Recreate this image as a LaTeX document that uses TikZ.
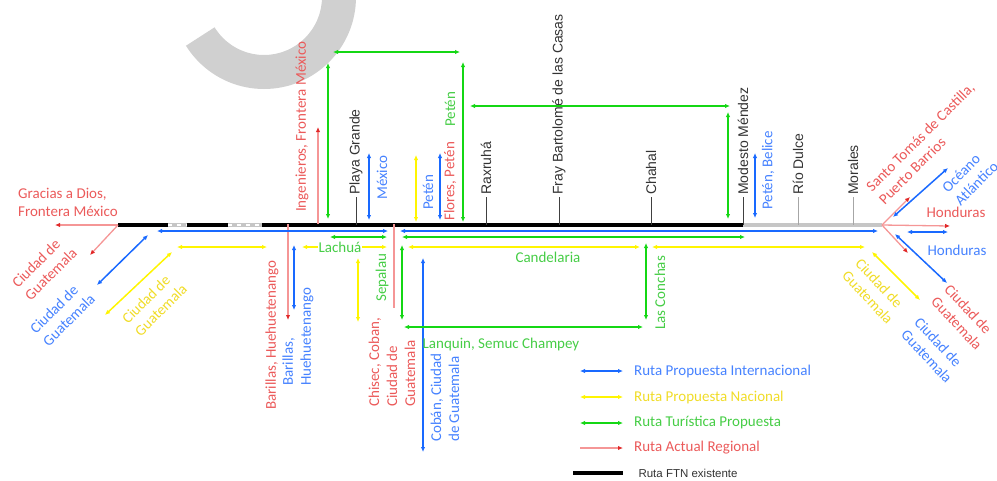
\documentclass[tikz,border=0pt]{standalone}
\usepackage{fontspec}
\setmainfont{Carlito}
\newfontfamily\arialfont{Liberation Sans}
\usetikzlibrary{arrows.meta}
\definecolor{azul}{RGB}{25,105,255}
\definecolor{azult}{RGB}{70,130,255}
\definecolor{amar}{RGB}{255,245,0}
\definecolor{amart}{RGB}{240,220,40}
\definecolor{verde}{RGB}{20,215,20}
\definecolor{verdet}{RGB}{70,205,70}
\definecolor{rosa}{RGB}{245,150,150}
\definecolor{rojo}{RGB}{225,40,40}
\definecolor{rojot}{RGB}{235,90,90}
\definecolor{gris}{RGB}{208,208,208}
\tikzset{
  blu/.style={azul,line width=1.5pt,<->},
  yel/.style={amar,line width=1.5pt,<->},
  grn/.style={verde,line width=1.5pt,<->},
  rd/.style={rosa,line width=1.3pt,-{Latex[length=5pt,width=4.5pt,color=rojo]}},
  ftn/.style={black,line width=3.5pt},
  marca/.style={black!75,line width=0.8pt},
  lbl/.style={font=\arialfont\fontsize{14}{16}\selectfont,text=black!80,rotate=90,anchor=west,inner sep=2pt},
  tx/.style={font=\fontsize{15}{18}\selectfont,inner sep=1pt,align=left},
  bt/.style={tx,text=azult},
  yt/.style={tx,text=amart},
  gt/.style={tx,text=verdet},
  rt/.style={tx,text=rojot}
}
\begin{document}
\begin{tikzpicture}[x=1pt,y=-1pt,>={Latex[length=5pt,width=4.5pt]}]
    \useasboundingbox (0,0) rectangle (997,480);
    \begin{scope}
      \clip (257,0) -- (52,132) -- (52,200) -- (420,200) -- (420,0) -- cycle;
      \fill[gris,even odd rule] (264,-3) circle (92pt) (264,-3) circle (58pt);
    \end{scope}
    \coordinate (L0) at (118,225);
    \coordinate (R0) at (882,225);
    \coordinate (k1) at (168,225);
    \coordinate (k2) at (187,225);
    \coordinate (k3) at (228,225);
    \coordinate (k4) at (262,225);
    \coordinate (k5) at (743,225);
    \draw[gray!45,line width=3.5pt] (L0) -- (R0);
    \draw[white,line width=2pt,dash pattern=on 4pt off 5pt] (k1) -- (k2) (k3) -- (k4);
    \draw[ftn] (L0) -- (k1) (k2) -- (k3) (k4) -- (k5);
    \node[lbl] (pg) at (356,197) {Playa Grande};
    \node[lbl] (rx) at (486,197) {Raxruhá};
    \node[lbl] (fb) at (559,197) {Fray Bartolomé de las Casas};
    \node[lbl] (ch) at (651,197) {Chahal};
    \node[lbl] (mm) at (743,197) {Modesto Méndez};
    \node[lbl] (rdu) at (798,197) {Río Dulce};
    \node[lbl] (mo) at (853,197) {Morales};
    \draw[marca] (pg.west) -- (pg.west |- L0);
    \draw[marca] (rx.west) -- (rx.west |- L0);
    \draw[marca] (fb.west) -- (fb.west |- L0);
    \draw[marca] (ch.west) -- (ch.west |- L0);
    \draw[marca] (mm.west) -- (mm.west |- L0);
    \draw[marca,gray!70] (rdu.west) -- (rdu.west |- L0);
    \draw[marca,gray!70] (mo.west) -- (mo.west |- L0);
    \coordinate (az1) at (157,231);
    \coordinate (az2) at (388,231);
    \coordinate (az3) at (400,231);
    \coordinate (az4) at (878,231);
    \coordinate (az5) at (148,235);
    \coordinate (az6) at (97,285);
    \coordinate (az7) at (369,153);
    \coordinate (az8) at (369,220);
    \coordinate (az9) at (440,153);
    \coordinate (az10) at (440,220);
    \coordinate (az11) at (294,245);
    \coordinate (az12) at (294,310);
    \coordinate (az13) at (423,258);
    \coordinate (az14) at (423,452);
    \coordinate (az15) at (755,153);
    \coordinate (az16) at (755,218);
    \coordinate (az17) at (893,217);
    \coordinate (az18) at (948,168);
    \coordinate (az19) at (907,232);
    \coordinate (az20) at (948,232);
    \coordinate (az21) at (895,234);
    \coordinate (az22) at (947,283);
    \coordinate (ve1) at (330,237);
    \coordinate (ve2) at (387,237);
    \coordinate (ve3) at (402,237);
    \coordinate (ve4) at (745,237);
    \coordinate (ve5) at (328,63);
    \coordinate (ve6) at (328,219);
    \coordinate (ve7) at (333,52);
    \coordinate (ve8) at (460,52);
    \coordinate (ve9) at (463,62);
    \coordinate (ve10) at (463,222);
    \coordinate (ve11) at (470,106);
    \coordinate (ve12) at (730,106);
    \coordinate (ve13) at (728,112);
    \coordinate (ve14) at (728,219);
    \coordinate (ve15) at (402,245);
    \coordinate (ve16) at (402,320);
    \coordinate (ve17) at (404,327);
    \coordinate (ve18) at (643,327);
    \coordinate (ve19) at (646,243);
    \coordinate (ve20) at (646,320);
    \coordinate (am1) at (177,247);
    \coordinate (am2) at (267,247);
    \coordinate (am3) at (302,247);
    \coordinate (am4) at (387,247);
    \coordinate (am5) at (408,247);
    \coordinate (am6) at (640,247);
    \coordinate (am7) at (652,247);
    \coordinate (am8) at (865,247);
    \coordinate (am9) at (172,252);
    \coordinate (am10) at (105,315);
    \coordinate (am11) at (872,252);
    \coordinate (am12) at (920,300);
    \coordinate (am13) at (416,155);
    \coordinate (am14) at (416,222);
    \coordinate (am15) at (358,258);
    \coordinate (am16) at (358,322);
    \coordinate (ro1) at (55,225);
    \coordinate (ro2) at (90,255);
    \coordinate (ro3) at (318,224);
    \coordinate (ro4) at (318,127);
    \coordinate (ro5) at (288,224);
    \coordinate (ro6) at (288,320);
    \coordinate (ro7) at (394,224);
    \coordinate (ro8) at (394,308);
    \coordinate (ro9) at (950,226);
    \coordinate (ro10) at (910,197);
    \coordinate (ro11) at (908,253);
    \draw[rd] (L0) -- (ro1);
    \draw[rd] (L0) -- (ro2);
    \draw[rd] (ro3) -- (ro4);
    \draw[rd] (ro5) -- (ro6);
    \draw[rd,-] (ro7) -- (ro8);
    \draw[rd] (R0) -- (ro9);
    \draw[rd] (R0) -- (ro10);
    \draw[rd] (R0) -- (ro11);
    \draw[blu] (az1) -- (az2);
    \draw[blu] (az3) -- (az4);
    \draw[blu] (az5) -- (az6);
    \draw[blu] (az7) -- (az8);
    \draw[blu] (az9) -- (az10);
    \draw[blu] (az11) -- (az12);
    \draw[blu] (az13) -- (az14);
    \draw[blu] (az15) -- (az16);
    \draw[blu] (az17) -- (az18);
    \draw[blu] (az19) -- (az20);
    \draw[blu] (az21) -- (az22);
    \draw[grn] (ve1) -- (ve2);
    \draw[grn] (ve3) -- (ve4);
    \draw[grn] (ve5) -- (ve6);
    \draw[grn] (ve7) -- (ve8);
    \draw[grn] (ve9) -- (ve10);
    \draw[grn] (ve11) -- (ve12);
    \draw[grn] (ve13) -- (ve14);
    \draw[grn] (ve15) -- (ve16);
    \draw[grn] (ve17) -- (ve18);
    \draw[grn] (ve19) -- (ve20);
    \draw[yel] (am1) -- (am2);
    \draw[yel] (am3) -- (am4);
    \draw[yel] (am5) -- (am6);
    \draw[yel] (am7) -- (am8);
    \draw[yel] (am9) -- (am10);
    \draw[yel] (am11) -- (am12);
    \draw[yel] (am13) -- (am14);
    \draw[yel] (am15) -- (am16);
    \node[rt,anchor=west] (gd) at (17,202) {Gracias a Dios,\\Frontera México};
    \node[rt,rotate=45,anchor=west] (cg1) at (20,292) {Ciudad de\\Guatemala};
    \node[bt,rotate=45,anchor=west] (cg2) at (38,338) {Ciudad de\\Guatemala};
    \node[yt,rotate=45,anchor=west] (cg3) at (130,328) {Ciudad de\\Guatemala};
    \node[rt,rotate=90,anchor=west] (ing) at (302,213) {Ingenieros, Frontera México};
    \node[bt,rotate=90,anchor=west] (mx) at (382,201) {México};
    \node[bt,rotate=90,anchor=west] (pt1) at (428,211) {Petén};
    \node[rt,rotate=90,anchor=west] (fp) at (450,222) {Flores, Petén};
    \node[gt,rotate=90,anchor=west] (pt2) at (450,128) {Petén};
    \node[bt,rotate=90,anchor=west] (pb) at (768,211) {Petén, Belice};
    \node[rt,rotate=45,anchor=west] (st) at (874,196) {Santo Tomás de Castilla,\\Puerto Barrios};
    \node[bt,rotate=45,anchor=west] (oa) at (950,197) {Océano\\Atlántico};
    \node[rt] (hn1) at (956,212) {Honduras};
    \node[bt] (hn2) at (957,250) {Honduras};
    \node[yt,rotate=-47,anchor=west] (cg4) at (851,266) {Ciudad de\\Guatemala};
    \node[rt,rotate=-47,anchor=west] (cg5) at (940,292) {Ciudad de\\Guatemala};
    \node[bt,rotate=-47,anchor=west] (cg6) at (910,325) {Ciudad de\\Guatemala};
    \node[gt,fill=white] (lac) at (340,247) {Lachuá};
    \node[gt] (can) at (548,257) {Candelaria};
    \node[gt] (lsc) at (501,344) {Lanquin, Semuc Champey};
    \node[rt,rotate=90,anchor=west] (bh1) at (272,411) {Barillas, Huehuetenango};
    \node[bt,rotate=90,anchor=west] (bh2) at (298,387) {Barillas,\\Huehuetenango};
    \node[rt,rotate=90,anchor=west] (cc) at (392,408) {Chisec, Coban,\\Ciudad de\\Guatemala};
    \node[gt,rotate=90,anchor=west] (sp) at (382,303) {Sepalau};
    \node[bt,rotate=90,anchor=west] (cb) at (445,443) {Cobán, Ciudad\\de Guatemala};
    \node[gt,rotate=90,anchor=west] (lco) at (660,331) {Las Conchas};
    \coordinate (le1) at (580,371);
    \coordinate (le2) at (623,371);
    \coordinate (le3) at (580,397);
    \coordinate (le4) at (623,397);
    \coordinate (le5) at (580,423);
    \coordinate (le6) at (623,423);
    \coordinate (le7) at (580,448);
    \coordinate (le8) at (623,448);
    \coordinate (le9) at (573,473);
    \coordinate (le10) at (623,473);
    \draw[blu] (le1) -- (le2);
    \draw[yel] (le3) -- (le4);
    \draw[grn] (le5) -- (le6);
    \draw[rd] (le7) -- (le8);
    \draw[ftn] (le9) -- (le10);
    \node[bt,anchor=west] (lg1) at (633,371) {Ruta Propuesta Internacional};
    \node[yt,anchor=west] (lg2) at (633,397) {Ruta Propuesta Nacional};
    \node[gt,anchor=west] (lg3) at (633,423) {Ruta Turística Propuesta};
    \node[rt,anchor=west] (lg4) at (633,448) {Ruta Actual Regional};
    \node[anchor=west,font=\arialfont\fontsize{11.5}{13}\selectfont,text=black!80] (lg5) at (635,473) {Ruta FTN existente};
\end{tikzpicture}
\end{document}
